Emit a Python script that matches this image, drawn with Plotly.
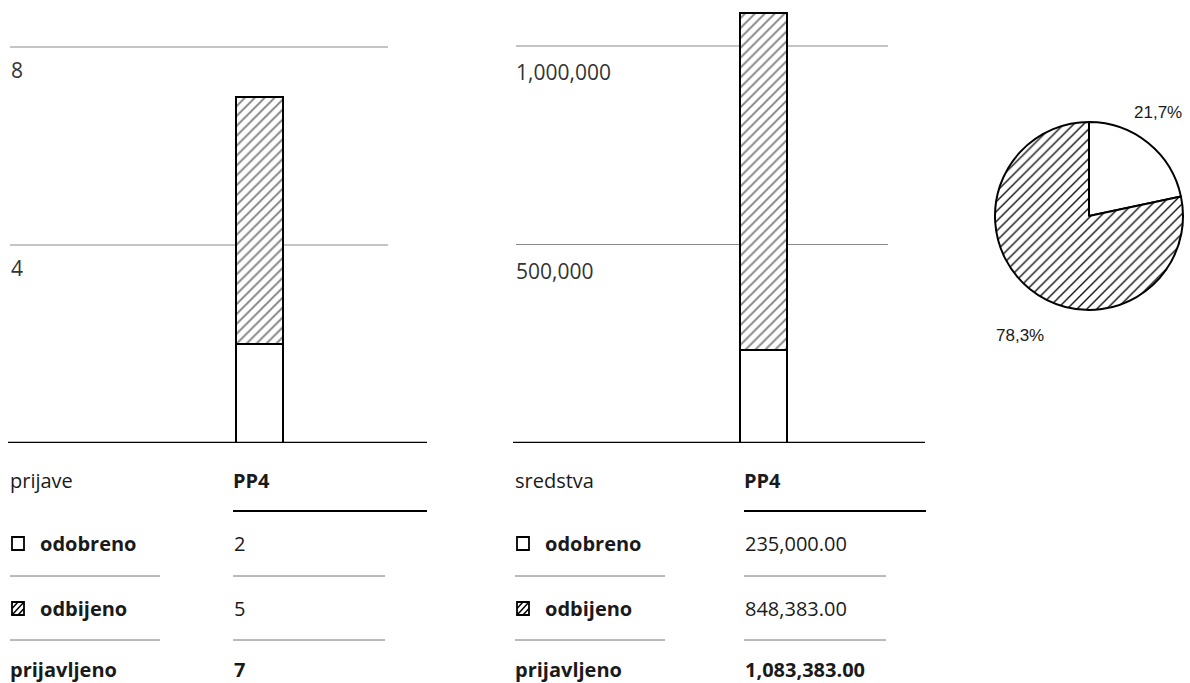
import plotly.graph_objects as go

# ---------------- data ----------------
categories = ["PP4"]
count_approved = [2]
count_rejected = [5]
funds_approved = [235000.00]
funds_rejected = [848383.00]
count_ticks = [4, 8]
funds_ticks = [500000, 1000000]
count_header = "prijave"
funds_header = "sredstva"
row_labels = ["odobreno", "odbijeno", "prijavljeno"]

# ---------------- helpers ----------------
W, H = 1190, 683


def px(x):
    return x / W


def py(y):
    return 1 - y / H


FONT = "Open Sans"
TXT = "#1a1a1a"
HATCH = dict(shape="/", fgcolor="#000000", bgcolor="white", size=7, solidity=0.27)
OUTLINE = dict(color="black", width=2)

fig = go.Figure()

# ---------------- bar charts ----------------
fig.add_trace(go.Bar(x=categories, y=count_approved, width=0.57,
                     marker=dict(color="white", line=OUTLINE),
                     xaxis="x", yaxis="y", showlegend=False, hoverinfo="skip"))
fig.add_trace(go.Bar(x=categories, y=count_rejected, width=0.57,
                     marker=dict(color="white", pattern=HATCH, line=OUTLINE),
                     xaxis="x", yaxis="y", showlegend=False, hoverinfo="skip"))
fig.add_trace(go.Bar(x=categories, y=funds_approved, width=0.56,
                     marker=dict(color="white", line=OUTLINE),
                     xaxis="x2", yaxis="y2", showlegend=False, hoverinfo="skip"))
fig.add_trace(go.Bar(x=categories, y=funds_rejected, width=0.56,
                     marker=dict(color="white", pattern=HATCH, line=OUTLINE),
                     xaxis="x2", yaxis="y2", showlegend=False, hoverinfo="skip"))

# ---------------- pie ----------------
fund_total = funds_approved[0] + funds_rejected[0]
fig.add_trace(go.Pie(
    values=[funds_approved[0], funds_rejected[0]],
    labels=row_labels[:2],
    sort=False, direction="clockwise", rotation=0,
    marker=dict(colors=["white", "white"], line=dict(color="black", width=2),
                pattern=dict(shape=["", "/"], fgcolor="#111111", bgcolor="white",
                             size=7, solidity=0.2)),
    textinfo="none", hoverinfo="skip", showlegend=False,
    domain=dict(x=[px(995), px(1183)], y=[py(310), py(122)]),
))

shapes = []
annotations = []

# gridlines + tick labels
for t in count_ticks:
    shapes.append(dict(type="line", xref="paper", yref="y", x0=px(10), x1=px(388),
                       y0=t, y1=t, line=dict(color="#8a8a8a", width=1), layer="below"))
    annotations.append(dict(xref="paper", yref="y", x=px(9), y=t, yanchor="top",
                            xanchor="left", yshift=-7, showarrow=False, text=str(t),
                            font=dict(family=FONT, size=21, color="#333333")))
for t in funds_ticks:
    shapes.append(dict(type="line", xref="paper", yref="y2", x0=px(516), x1=px(888),
                       y0=t, y1=t, line=dict(color="#8a8a8a", width=1), layer="below"))
    annotations.append(dict(xref="paper", yref="y2", x=px(514), y=t, yanchor="top",
                            xanchor="left", yshift=-10, showarrow=False, text=f"{t:,}",
                            font=dict(family=FONT, size=21, color="#333333")))

# baselines
shapes.append(dict(type="line", xref="paper", yref="y", x0=px(8), x1=px(427), y0=0, y1=0,
                   line=dict(color="black", width=2.5)))
shapes.append(dict(type="line", xref="paper", yref="y2", x0=px(513), x1=px(925), y0=0, y1=0,
                   line=dict(color="black", width=2.5)))

# pie labels
pct_approved = funds_approved[0] / fund_total * 100
pct_rejected = funds_rejected[0] / fund_total * 100
annotations.append(dict(xref="paper", yref="paper", x=px(1158), y=py(112), showarrow=False,
                        xanchor="center", yanchor="middle",
                        text=f"{pct_approved:.1f}%".replace(".", ","),
                        font=dict(family="Liberation Sans", size=17, color=TXT)))
annotations.append(dict(xref="paper", yref="paper", x=px(1020), y=py(335), showarrow=False,
                        xanchor="center", yanchor="middle",
                        text=f"{pct_rejected:.1f}%".replace(".", ","),
                        font=dict(family="Liberation Sans", size=17, color=TXT)))

# ---------------- tables ----------------
ROW_Y = [543, 608, 669]
HEAD_Y = 480


def add_table(x_lab, x_val, x_val_end, x_head_end, header, values, total):
    def txt(x, y, s, size=20):
        annotations.append(dict(xref="paper", yref="paper", x=px(x), y=py(y),
                                xanchor="left", yanchor="middle", showarrow=False,
                                text=s, font=dict(family=FONT, size=size, color=TXT)))

    def seg(x0, y0, x1, y1, color="black", width=1.5):
        shapes.append(dict(type="line", xref="paper", yref="paper",
                           x0=px(x0), y0=py(y0), x1=px(x1), y1=py(y1),
                           line=dict(color=color, width=width)))

    txt(x_lab - 2, HEAD_Y, header)
    txt(x_val - 2, HEAD_Y, "<b>" + categories[0] + "</b>")
    seg(x_val, 511, x_head_end, 511, width=2)
    # legend boxes
    for i, yy in enumerate(ROW_Y[:2]):
        bx0, bx1, top, bot = x_lab + 2, x_lab + 14, yy - 6, yy + 7
        shapes.append(dict(type="rect", xref="paper", yref="paper",
                           x0=px(bx0), x1=px(bx1), y0=py(bot), y1=py(top),
                           line=dict(color="black", width=1.8), fillcolor="white"))
        if i == 1:
            seg(bx0, bot, bx1, top)
            seg(bx0, yy + 0.5, bx0 + 6, top)
            seg(bx0 + 6, bot, bx1, yy + 0.5)
    for i, yy in enumerate(ROW_Y):
        if i < 2:
            txt(x_lab + 28, yy, "<b>" + row_labels[i] + "</b>")
            txt(x_val - 1, yy, values[i])
        else:
            txt(x_lab - 2, yy, "<b>" + row_labels[i] + "</b>")
            txt(x_val - 1, yy, "<b>" + total + "</b>")
    for yy in (576, 640):
        seg(x_lab, yy, x_lab + 150, yy, color="#777777", width=1)
        seg(x_val, yy, x_val_end, yy, color="#777777", width=1)


add_table(10, 233, 385, 427, count_header,
          [str(count_approved[0]), str(count_rejected[0])],
          str(count_approved[0] + count_rejected[0]))
add_table(515, 744, 886, 926, funds_header,
          [f"{funds_approved[0]:,.2f}", f"{funds_rejected[0]:,.2f}"],
          f"{funds_approved[0] + funds_rejected[0]:,.2f}")

fig.update_layout(
    width=W, height=H,
    margin=dict(l=0, r=0, t=0, b=0),
    paper_bgcolor="white", plot_bgcolor="rgba(0,0,0,0)",
    barmode="stack", bargap=0,
    xaxis=dict(domain=[px(8), px(427)], range=[-3, 2], visible=False, fixedrange=True),
    yaxis=dict(domain=[py(443), py(8)], range=[0, 8.788], visible=False, fixedrange=True),
    xaxis2=dict(domain=[px(513), px(925)], range=[-3, 1.935], visible=False, anchor="y2",
                fixedrange=True),
    yaxis2=dict(domain=[py(443), py(8)], range=[0, 1095700], visible=False, anchor="x2",
                fixedrange=True),
    shapes=shapes,
    annotations=annotations,
    hovermode=False,
)

fig.write_html(
    "out.html",
    config={"displayModeBar": False, "responsive": False},
    post_script="document.body.style.margin='0';document.body.style.overflow='hidden';",
)
